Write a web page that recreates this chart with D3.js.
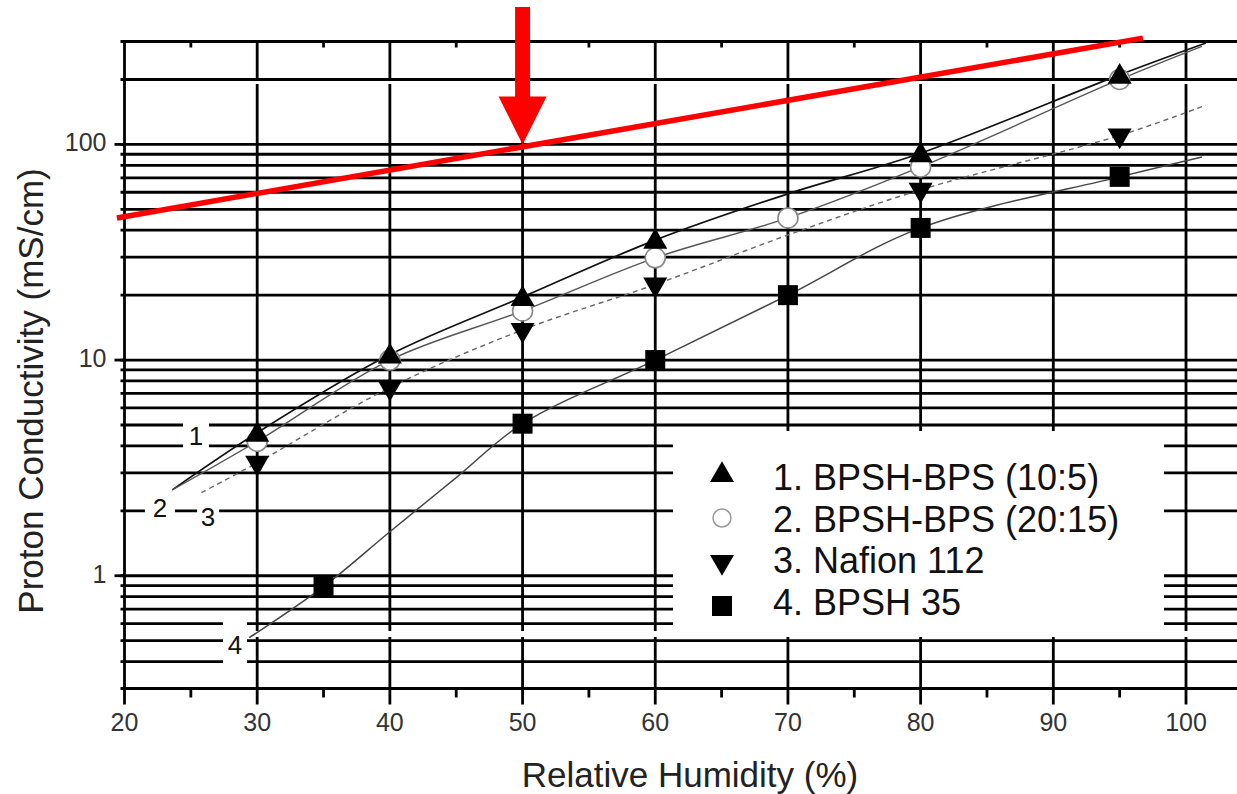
<!DOCTYPE html>
<html>
<head>
<meta charset="utf-8">
<script src="https://cdn.jsdelivr.net/npm/d3@7"></script>
<style>
  body { margin: 0; background: #fff; }
  svg { display: block; font-family: "Liberation Sans", Arial, sans-serif; }
</style>
</head>
<body>
<svg id="chart" width="1237" height="794"></svg>
<script>
// measured points (relative humidity %, conductivity mS/cm)
var bps105X = [30, 40, 50, 60, 80, 95];
var bps105Y = [4.6, 10.6, 19.6, 36.1, 91, 210];
var bps2015X = [30, 40, 50, 60, 70, 80, 95];
var bps2015Y = [4.2, 10, 16.9, 29.8, 45.6, 78.6, 200];
var nafionX = [30, 40, 50, 60, 80, 95];
var nafionY = [3.34, 7.45, 13.8, 22.4, 61.6, 110];
var bpsh35X = [35, 50, 60, 70, 80, 95];
var bpsh35Y = [0.89, 5.07, 10, 20, 41, 70.7];

// fitted curves
var fit1X = [23.6, 30, 40, 50, 60, 70, 80, 95, 101.5];
var fit1Y = [2.5, 4.6, 10.6, 19.6, 36, 59, 91, 210, 295];
var fit2X = [23.6, 30, 40, 50, 60, 70, 80, 95, 101.2];
var fit2Y = [2.5, 4.2, 10, 16.9, 29.8, 45.6, 78.6, 200, 285];
var fit3X = [25.8, 30, 40, 50, 60, 70, 80, 95, 101.5];
var fit3Y = [2.43, 3.34, 7.45, 13.8, 22.4, 38, 61.6, 110, 152];
var fit4X = [29.4, 35, 40, 45, 50, 60, 70, 80, 95, 101.2];
var fit4Y = [0.516, 0.89, 1.6, 2.85, 5.07, 10, 20, 41, 70.7, 87.5];

// red guide line and arrow tip
var redX = [19.43, 96.75];
var redY = [45.6, 311];
var arrowTip = [50, 100];

// axes
var xMajor = [20, 30, 40, 50, 60, 70, 80, 90, 100];
var xMinor = [25, 35, 45, 55, 65, 75, 85, 95];
var xGrid = [30, 40, 50, 60, 70, 80, 90, 100];
var yMajor = [1, 10, 100];
var yGrid = [0.4, 0.5, 0.6, 0.7, 0.8, 0.9, 1, 2, 3, 4, 5, 6, 7, 8, 9, 10,
             20, 30, 40, 50, 60, 70, 80, 90, 100, 200];

var legendNames = ["1. BPSH-BPS (10:5)", "2. BPSH-BPS (20:15)", "3. Nafion 112", "4. BPSH 35"];
var curveLabels = [
  {t: "1", x: 25.39, y: 4.46, w: 26, h: 46},
  {t: "2", x: 22.67, y: 2.07, w: 30, h: 40},
  {t: "3", x: 26.3, y: 1.88, w: 22, h: 40},
  {t: "4", x: 28.33, y: 0.479, w: 24, h: 50}
];

var svg = d3.select("#chart");
var x = d3.scaleLinear().domain([20, 100]).range([124.5, 1186]);
var y = d3.scaleLog().domain([0.3, 300]).range([688.5, 41.5]);
var plotL = x(20), plotR = 1240, plotT = y(300), plotB = y(0.3);
var gw = 2.8;
// small breaks in the vertical grid lines, as in the scan
var vBreaks = [[plotT, 80], [84, 631], [637, plotB]];

var grid = svg.append("g").attr("stroke", "#000").attr("stroke-width", gw);
grid.selectAll(".hg").data(yGrid).enter().append("line")
  .attr("x1", plotL - 4).attr("x2", plotR)
  .attr("y1", function(d){ return y(d); }).attr("y2", function(d){ return y(d); });
xGrid.forEach(function(v){
  vBreaks.forEach(function(s){
    grid.append("line").attr("x1", x(v)).attr("x2", x(v)).attr("y1", s[0]).attr("y2", s[1]);
  });
});

// frame
grid.append("line").attr("x1", plotL - 4).attr("x2", plotR).attr("y1", plotT).attr("y2", plotT);
grid.append("line").attr("x1", plotL - 4).attr("x2", plotR).attr("y1", plotB).attr("y2", plotB);
grid.append("line").attr("x1", plotL).attr("x2", plotL).attr("y1", plotT - 1).attr("y2", plotB);

// ticks
grid.selectAll(".xt").data(xMajor).enter().append("line")
  .attr("x1", function(d){ return x(d); }).attr("x2", function(d){ return x(d); })
  .attr("y1", plotB).attr("y2", plotB + 16);
grid.selectAll(".xm").data(xMinor).enter().append("line")
  .attr("x1", function(d){ return x(d); }).attr("x2", function(d){ return x(d); })
  .attr("y1", plotB).attr("y2", plotB + 9);
grid.selectAll(".xmt").data(xMinor).enter().append("line")
  .attr("x1", function(d){ return x(d); }).attr("x2", function(d){ return x(d); })
  .attr("y1", plotT).attr("y2", plotT + 6);
grid.selectAll(".yt").data(yMajor).enter().append("line")
  .attr("x1", plotL - 10).attr("x2", plotL)
  .attr("y1", function(d){ return y(d); }).attr("y2", function(d){ return y(d); });

// tick labels
svg.selectAll(".xl").data(xMajor).enter().append("text")
  .attr("x", function(d){ return x(d); }).attr("y", plotB + 42)
  .attr("text-anchor", "middle").attr("font-size", 25).attr("fill", "#333")
  .text(function(d){ return d; });
svg.selectAll(".yl").data(yMajor).enter().append("text")
  .attr("x", plotL - 18).attr("y", function(d){ return y(d) + 7; })
  .attr("text-anchor", "end").attr("font-size", 25).attr("fill", "#333")
  .text(function(d){ return d; });

// axis titles
svg.append("text").attr("x", 690).attr("y", 787)
  .attr("text-anchor", "middle").attr("font-size", 35).attr("fill", "#222")
  .text("Relative Humidity (%)");
svg.append("text").attr("transform", "translate(43,391) rotate(-90)")
  .attr("text-anchor", "middle").attr("font-size", 35).attr("fill", "#222")
  .text("Proton Conductivity (mS/cm)");

// white boxes behind legend and curve labels
svg.append("rect").attr("x", 673).attr("y", 431).attr("width", 491).attr("height", 206).attr("fill", "#fff");
svg.selectAll(".lb").data(curveLabels).enter().append("rect")
  .attr("x", function(d){ return x(d.x) - d.w / 2; })
  .attr("y", function(d){ return y(d.y) - d.h / 2; })
  .attr("width", function(d){ return d.w; }).attr("height", function(d){ return d.h; })
  .attr("fill", "#fff");
svg.selectAll(".lt").data(curveLabels).enter().append("text")
  .attr("x", function(d){ return x(d.x); }).attr("y", function(d){ return y(d.y) + 9; })
  .attr("text-anchor", "middle").attr("font-size", 26).attr("fill", "#111")
  .text(function(d){ return d.t; });

// curves
var line = d3.line().curve(d3.curveCatmullRom.alpha(0.5))
  .x(function(d){ return x(d[0]); }).y(function(d){ return y(d[1]); });
var fits = [
  {xs: fit1X, ys: fit1Y, c: "#111", w: 1.7, dash: null},
  {xs: fit2X, ys: fit2Y, c: "#555", w: 1.4, dash: null},
  {xs: fit3X, ys: fit3Y, c: "#666", w: 1.4, dash: "5,4"},
  {xs: fit4X, ys: fit4Y, c: "#444", w: 1.5, dash: null}
];
fits.forEach(function(f){
  svg.append("path").datum(d3.zip(f.xs, f.ys))
    .attr("d", line).attr("fill", "none")
    .attr("stroke", f.c).attr("stroke-width", f.w)
    .attr("stroke-dasharray", f.dash);
});

// markers
var triUp = d3.symbol(d3.symbolTriangle, 250)();
var square = d3.symbol(d3.symbolSquare, 400)();
svg.selectAll(".c2").data(d3.zip(bps2015X, bps2015Y)).enter().append("circle")
  .attr("cx", function(d){ return x(d[0]); }).attr("cy", function(d){ return y(d[1]); })
  .attr("r", 10).attr("fill", "#fff").attr("stroke", "#888").attr("stroke-width", 1.6);
svg.selectAll(".m4").data(d3.zip(bpsh35X, bpsh35Y)).enter().append("path")
  .attr("d", square).attr("fill", "#000")
  .attr("transform", function(d){ return "translate(" + x(d[0]) + "," + y(d[1]) + ")"; });
svg.selectAll(".m3").data(d3.zip(nafionX, nafionY)).enter().append("path")
  .attr("d", triUp).attr("fill", "#000")
  .attr("transform", function(d){ return "translate(" + x(d[0]) + "," + y(d[1]) + ") rotate(180)"; });
svg.selectAll(".m1").data(d3.zip(bps105X, bps105Y)).enter().append("path")
  .attr("d", triUp).attr("fill", "#000")
  .attr("transform", function(d){ return "translate(" + x(d[0]) + "," + (y(d[1]) + 2) + ")"; });

// legend
var lg = svg.append("g");
var rowY = [477, 519, 560, 602];
legendNames.forEach(function(name, i){
  var ly = rowY[i];
  if (i == 0) lg.append("path").attr("d", triUp).attr("fill", "#000").attr("transform", "translate(722," + (ly - 2) + ")");
  if (i == 1) lg.append("circle").attr("cx", 722).attr("cy", ly - 1).attr("r", 9).attr("fill", "#fff").attr("stroke", "#999").attr("stroke-width", 1.5);
  if (i == 2) lg.append("path").attr("d", triUp).attr("fill", "#000").attr("transform", "translate(722," + (ly + 2) + ") rotate(180)");
  if (i == 3) lg.append("path").attr("d", square).attr("fill", "#000").attr("transform", "translate(722," + (ly + 4) + ")");
  lg.append("text").attr("x", 773).attr("y", ly + 13)
    .attr("font-size", 36).attr("fill", "#111").text(name);
});

// red line and arrow
svg.append("line")
  .attr("x1", x(redX[0])).attr("y1", y(redY[0]))
  .attr("x2", x(redX[1])).attr("y2", y(redY[1]))
  .attr("stroke", "#ff0000").attr("stroke-width", 5.5);
var tx = x(arrowTip[0]), ty = y(arrowTip[1]);
svg.append("path")
  .attr("d", "M" + (tx - 7.5) + ",7 L" + (tx + 7.5) + ",7 L" + (tx + 7.5) + "," + (ty - 48) +
    " L" + (tx + 24) + "," + (ty - 48) + " L" + tx + "," + ty + " L" + (tx - 24) + "," + (ty - 48) +
    " L" + (tx - 7.5) + "," + (ty - 48) + "Z")
  .attr("fill", "#ff0000");
</script>
</body>
</html>
